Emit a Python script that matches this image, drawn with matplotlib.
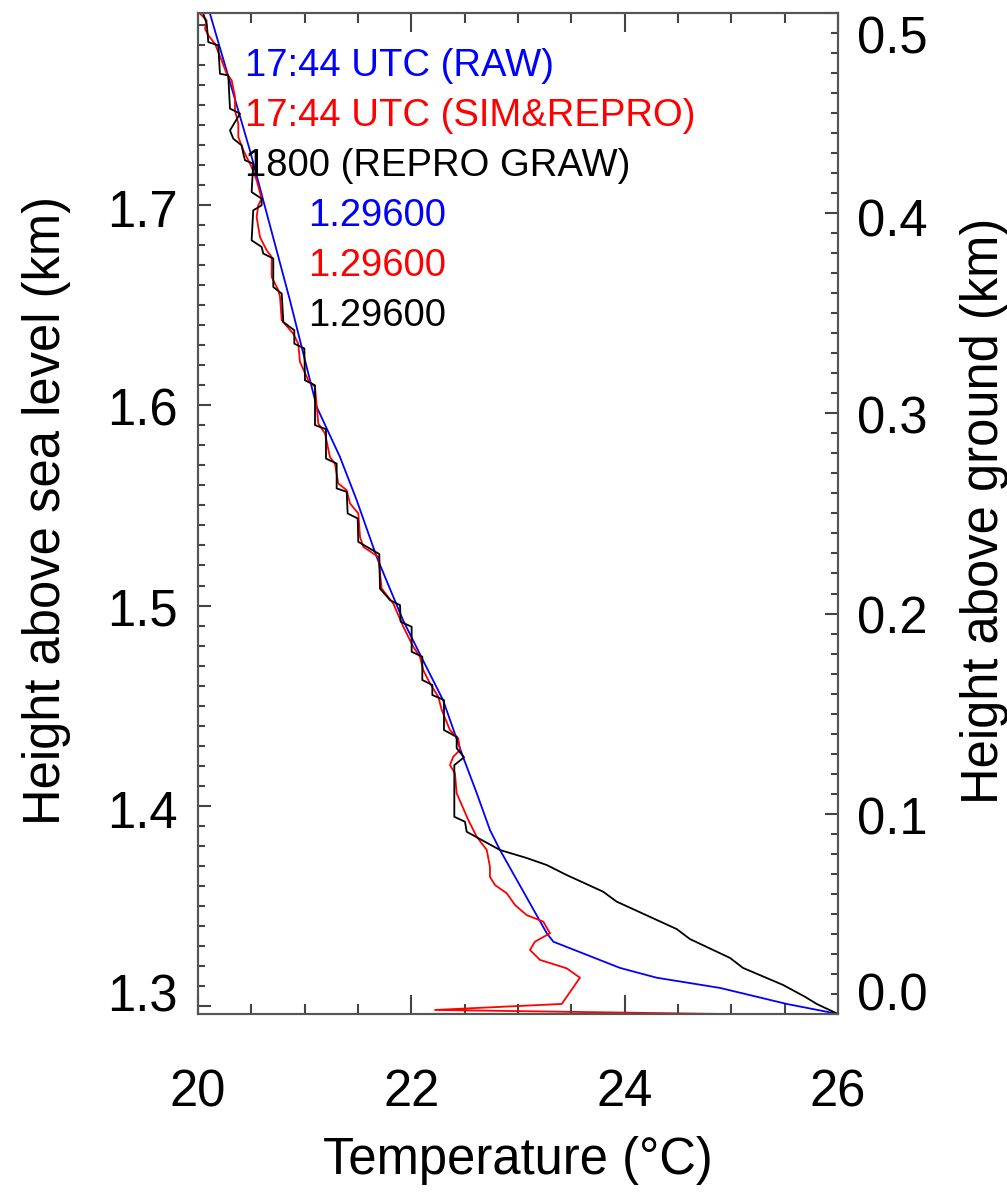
import numpy as np
import matplotlib
matplotlib.use('Agg')
import matplotlib.pyplot as plt
from matplotlib.ticker import MultipleLocator, NullFormatter

plt.rcParams['font.family'] = ['Liberation Sans', 'DejaVu Sans']

# surface height (km asl)
z0 = 1.296

# 17:44 UTC raw sounding
t_raw = [20.112, 20.487, 20.862, 20.975, 21.113, 21.331, 21.488, 21.675, 21.922,
         22.109, 22.297, 22.484, 22.613, 22.737, 22.831, 23.269, 23.331, 23.956,
         24.300, 24.894, 25.519, 26.0]
h_raw = [1.7957, 1.7273, 1.6525, 1.6285, 1.5992, 1.5742, 1.5526, 1.5243, 1.4927,
         1.4727, 1.4528, 1.4245, 1.4063, 1.3879, 1.3779, 1.3364, 1.3321, 1.3190,
         1.3141, 1.3090, 1.3010, 1.296]

# 17:44 UTC simulated & reprocessed
t_sim = [20.009, 20.082, 20.066, 20.097, 20.159, 20.222, 20.269, 20.316, 20.347,
         20.347, 20.378, 20.378, 20.425, 20.503, 20.550, 20.597, 20.565, 20.550,
         20.581, 20.644, 20.691, 20.691, 20.753, 20.769, 20.785, 20.893, 20.940,
         20.956, 21.034, 21.097, 21.128, 21.191, 21.237, 21.284, 21.315, 21.394,
         21.425, 21.503, 21.519, 21.550, 21.690, 21.722, 21.831, 21.925, 22.018,
         22.081, 22.112, 22.175, 22.253, 22.285, 22.362, 22.440, 22.456, 22.393,
         22.362, 22.409, 22.425, 22.534, 22.613, 22.707, 22.737, 22.737, 22.784,
         22.894, 22.972, 23.081, 23.237, 23.300, 23.159, 23.112, 23.206, 23.456,
         23.581, 23.410, 22.222, 24.894]
h_sim = [1.7962, 1.7922, 1.7881, 1.7848, 1.7806, 1.7723, 1.7656, 1.7623, 1.7540,
         1.7473, 1.7407, 1.7340, 1.7274, 1.7190, 1.7124, 1.7032, 1.6999, 1.6940,
         1.6841, 1.6774, 1.6741, 1.6641, 1.6575, 1.6541, 1.6425, 1.6358, 1.6308,
         1.6217, 1.6125, 1.6092, 1.5909, 1.5859, 1.5742, 1.5709, 1.5610, 1.5576,
         1.5510, 1.5460, 1.5343, 1.5293, 1.5243, 1.5085, 1.5010, 1.4894, 1.4794,
         1.4744, 1.4677, 1.4611, 1.4544, 1.4478, 1.4378, 1.4336, 1.4278, 1.4245,
         1.4203, 1.4162, 1.4062, 1.3929, 1.3845, 1.3779, 1.3695, 1.3645, 1.3604,
         1.3563, 1.3504, 1.3454, 1.3421, 1.3363, 1.3321, 1.3280, 1.3230, 1.3188,
         1.3141, 1.3010, 1.2980, 1.2960]

# 1800 reprocessed GRAW
t_graw = [20.047, 20.082, 20.097, 20.190, 20.206, 20.284, 20.300, 20.394, 20.300,
          20.331, 20.410, 20.425, 20.441, 20.518, 20.503, 20.597, 20.597, 20.518,
          20.503, 20.597, 20.612, 20.706, 20.706, 20.785, 20.800, 20.903, 20.903,
          20.997, 21.003, 21.097, 21.097, 21.200, 21.200, 21.300, 21.300, 21.394,
          21.403, 21.497, 21.503, 21.700, 21.706, 21.800, 21.894, 21.900, 22.003,
          22.003, 22.103, 22.103, 22.197, 22.197, 22.306, 22.306, 22.425, 22.425,
          22.494, 22.403, 22.403, 22.503, 22.519, 22.831, 23.081, 23.269, 23.456,
          23.797, 23.925, 24.488, 24.612, 24.987, 25.109, 25.484, 25.690, 25.800,
          26.0]
h_graw = [1.7960, 1.7906, 1.7814, 1.7798, 1.7656, 1.7648, 1.7482, 1.7457, 1.7373,
          1.7332, 1.7298, 1.7257, 1.7224, 1.7207, 1.7065, 1.7032, 1.6999, 1.6974,
          1.6824, 1.6791, 1.6758, 1.6733, 1.6591, 1.6558, 1.6416, 1.6375, 1.6308,
          1.6284, 1.6125, 1.6100, 1.5901, 1.5881, 1.5734, 1.5709, 1.5585, 1.5568,
          1.5460, 1.5435, 1.5318, 1.5257, 1.5085, 1.5027, 1.5002, 1.4919, 1.4894,
          1.4769, 1.4744, 1.4628, 1.4603, 1.4553, 1.4528, 1.4378, 1.4344, 1.4287,
          1.4242, 1.4203, 1.3945, 1.3920, 1.3870, 1.3779, 1.3739, 1.3704, 1.3654,
          1.3571, 1.3521, 1.3384, 1.3334, 1.3240, 1.3190, 1.3105, 1.3046, 1.3010,
          1.296]

labels = ['17:44 UTC (RAW)', '17:44 UTC (SIM&REPRO)', '1800 (REPRO GRAW)']
colors = ['#0000ff', '#ff0000', 'black']

# y tick labels (IDL style: shifted to stay inside the axis range)
asl_ticks = [1.3, 1.4, 1.5, 1.6, 1.7]
asl_shift = [6, -6.5, -5, -5, -6]        # points, + = up
agl_ticks = [0.0, 0.1, 0.2, 0.3, 0.4, 0.5]
agl_shift = [12, -5, -5, -5, -7, -19.5]

fs = 36.5
tc = '#444444'

fig = plt.figure(figsize=(10.07, 11.95), dpi=100)
ax = fig.add_axes([0.1966, 0.1515, 0.6356, 0.8377])
ax.plot(t_raw, h_raw, color=colors[0], lw=1.3)
ax.plot(t_sim, h_sim, color=colors[1], lw=1.3)
ax.plot(t_graw, h_graw, color=colors[2], lw=1.3)

ax.set_xlim(20, 26)
ax.set_ylim(z0, z0 + 0.5)
ax.xaxis.set_major_locator(MultipleLocator(2))
ax.xaxis.set_minor_locator(MultipleLocator(0.5))
ax.yaxis.set_major_locator(MultipleLocator(0.1))
ax.yaxis.set_minor_locator(MultipleLocator(0.01))
ax.yaxis.set_major_formatter(NullFormatter())
ax.tick_params(axis='x', which='both', direction='in', top=True, colors=tc,
               labelcolor='black', labelsize=fs, pad=39)
ax.tick_params(axis='x', which='major', length=14, width=1.5)
ax.tick_params(axis='x', which='minor', length=7, width=1.5)
ax.tick_params(axis='y', which='both', direction='in', right=False, colors=tc)
ax.tick_params(axis='y', which='major', length=9.5, width=1.5)
ax.tick_params(axis='y', which='minor', length=5, width=1.5)
for s in ax.spines.values():
    s.set_color('#555555')
    s.set_linewidth(1.5)

ax.set_xlabel('Temperature (\u00b0C)', fontsize=fs)
ax.xaxis.set_label_coords(0.5, -0.122)
ax.set_ylabel('Height above sea level (km)', fontsize=fs)
ax.yaxis.set_label_coords(-0.198, 0.503)

for v, d in zip(asl_ticks, asl_shift):
    ax.annotate('%.1f' % v, xy=(0, v), xycoords=('axes fraction', 'data'),
                xytext=(-14.4, d), textcoords='offset points',
                ha='right', va='center', fontsize=fs)

ax2 = ax.twinx()
ax2.set_ylim(0, 0.5)
ax2.yaxis.set_major_locator(MultipleLocator(0.1))
ax2.yaxis.set_minor_locator(MultipleLocator(0.01))
ax2.yaxis.set_major_formatter(NullFormatter())
ax2.tick_params(axis='y', which='both', direction='in', colors=tc)
ax2.tick_params(axis='y', which='major', length=9.5, width=1.5)
ax2.tick_params(axis='y', which='minor', length=5, width=1.5)
for s in ax2.spines.values():
    s.set_color('#555555')
    s.set_linewidth(1.5)
ax2.set_ylabel('Height above ground (km)', fontsize=fs, rotation=90)
ax2.yaxis.set_label_coords(1.19, 0.503)

for v, d in zip(agl_ticks, agl_shift):
    ax2.annotate('%.1f' % v, xy=(1, v), xycoords=('axes fraction', 'data'),
                 xytext=(13.7, d), textcoords='offset points',
                 ha='left', va='center', fontsize=fs)

# annotations
for i in range(3):
    ax.text(0.073, 0.937 - 0.05 * i, labels[i], color=colors[i], fontsize=27.5,
            transform=ax.transAxes, va='baseline', ha='left')
for i in range(3):
    ax.text(0.172, 0.787 - 0.05 * i, '%.5f' % z0, color=colors[i], fontsize=27.5,
            transform=ax.transAxes, va='baseline', ha='left')

plt.savefig('out.png', dpi=100)
